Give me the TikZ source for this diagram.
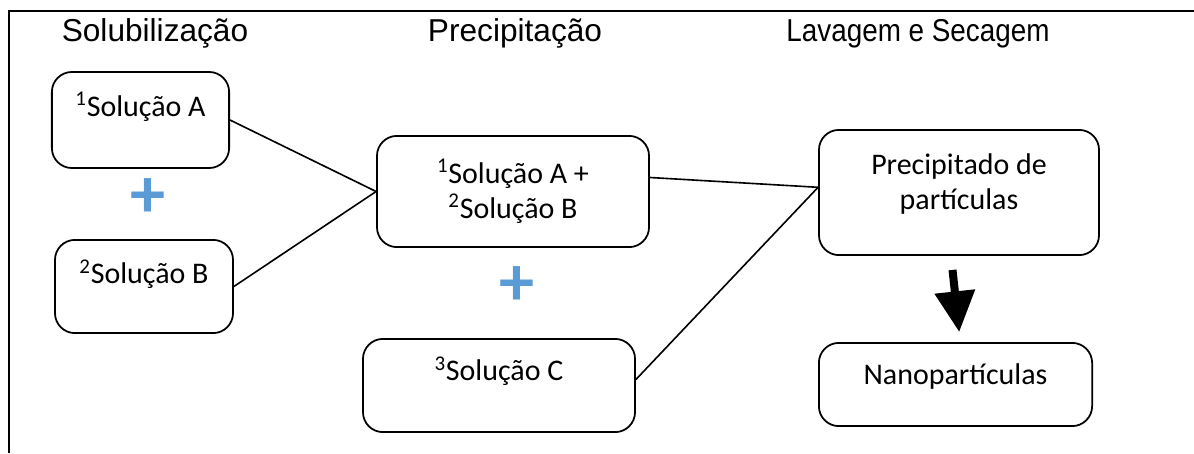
\documentclass[tikz,border=0pt]{standalone}
\usepackage{fontspec}
\setmainfont{Carlito}
\newfontfamily\headfont{Liberation Sans}
\newfontfamily\narrowheadfont[FakeStretch=0.88]{Liberation Sans}
\usetikzlibrary{arrows.meta}
\definecolor{plusblue}{RGB}{91,155,213}

\begin{document}
\begin{tikzpicture}[x=0.025cm, y=-0.025cm,
	stage/.style={ font=\headfont\fontsize{22.5}{27}\selectfont, anchor=base, inner sep=0pt },
	box/.style={ draw, line width=1.25pt, rounded corners=0.5cm, align=center, inner sep=0pt,
		font=\fontsize{21.3}{24.9}\selectfont },
	link/.style={ line width=1.15pt },
	plus/.style={ text=plusblue, font=\fontsize{50}{50}\selectfont\bfseries, inner sep=0pt },
	bigarrow/.style={ line width=0.2cm, -{Triangle[width=0.97cm,length=1.02cm]} }
]
\useasboundingbox (0,0) rectangle (1194,453);

% frame
\draw[line width=1.5pt] (9,453) -- (9,11) -- (1194,11);

\node at (155,42) (sol) [stage] {Solubilização};
\node at (515,42) (pre) [stage] {Precipitação};
\node at (918,42) (lav) [stage,font=\narrowheadfont\fontsize{22.5}{27}\selectfont] {Lavagem e Secagem};

\node at (140.5,120) (a) [box,minimum width=4.43cm,minimum height=2.4cm,text depth=0.8cm]
	{\textsuperscript{1}Solução A};
\node at (148.5,198) (p1) [plus] {+};
\node at (144,286.5) (b) [box,minimum width=4.45cm,minimum height=2.33cm,text depth=0.73cm]
	{\textsuperscript{2}Solução B};

\node at (513,191.5) (ab) [box,minimum width=6.8cm,minimum height=2.78cm]
	{\textsuperscript{1}Solução A +\\\textsuperscript{2}Solução B};
\node at (517,286) (p2) [plus] {+};
\node at (499,385.5) (c) [box,minimum width=6.8cm,minimum height=2.33cm,text depth=0.83cm]
	{\textsuperscript{3}Solução C};

\node at (959,192.5) (prec) [box,minimum width=7cm,minimum height=3.13cm,text depth=0.55cm]
	{Precipitado de\\partículas};
\node at (955.5,384.5) (nano) [box,minimum width=6.83cm,minimum height=2.08cm,text depth=0.53cm]
	{Nanopartículas};

\coordinate (join) at ([yshift=0.13cm]prec.west);
\draw[link] (a.east) -- (ab.west);
\draw[link] (b.east) -- (ab.west);
\draw[link] ([yshift=0.35cm]ab.east) -- (join);
\draw[link] ([yshift=0.15cm]c.east) -- (join);
\draw[bigarrow,shorten <=0.35cm,shorten >=0.25cm] ([xshift=-0.2cm]prec.south) -- ([xshift=0.12cm]nano.north);

\end{tikzpicture}
\end{document}
